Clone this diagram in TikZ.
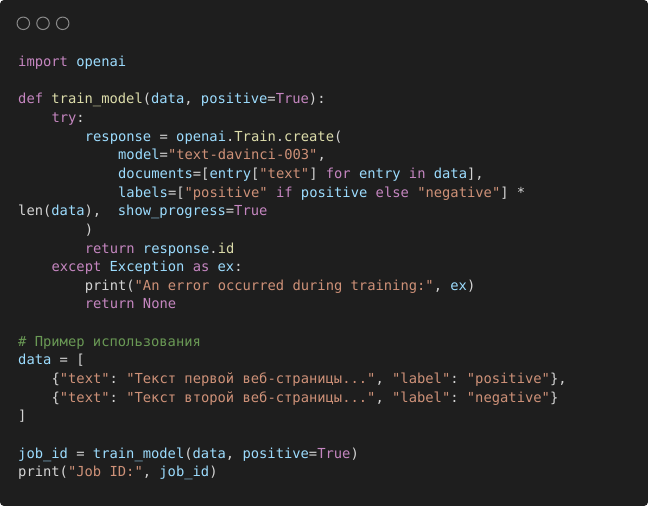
\documentclass[tikz,border=0pt]{standalone}
\usepackage{fontspec}
\usepackage{tikz}
\usetikzlibrary{positioning}
\newfontfamily\codefont{DejaVu Sans Mono}

\definecolor{codebg}{HTML}{1E1E1E}
\definecolor{codefg}{HTML}{D4D4D4}
\definecolor{kwcol}{HTML}{C586C0}
\definecolor{varcol}{HTML}{9CDCFE}
\definecolor{fncol}{HTML}{DCDCAA}
\definecolor{strcol}{HTML}{CE9178}
\definecolor{cmtcol}{HTML}{6A9955}
\definecolor{dotcol}{HTML}{8A8A8A}

\newcommand{\kw}[1]{\textcolor{kwcol}{#1}}
\newcommand{\vr}[1]{\textcolor{varcol}{#1}}
\newcommand{\fn}[1]{\textcolor{fncol}{#1}}
\newcommand{\st}[1]{\textcolor{strcol}{#1}}
\newcommand{\cm}[1]{\textcolor{cmtcol}{#1}}

\frenchspacing

\begin{document}
\begin{tikzpicture}[x=1pt, y=1pt,
  code/.style={anchor=base west, inner sep=0pt, text=codefg,
    font=\codefont\fontsize{13.8}{16}\selectfont},
  dot/.style={draw=dotcol, line width=1pt, circle, minimum size=12.5pt, inner sep=0pt}]
  \def\cw{8.33}
  \def\lh{18.65}
  \useasboundingbox (0,0) rectangle (648,-506);
  \fill[white] (0,0) rectangle (648,-506);
  \fill[codebg, rounded corners=4pt] (0,0) rectangle (648,-506);

  % window buttons
  \node[dot] (b1) at (23.3,-23.3) {};
  \node[dot] (b2) at (43,-23.3) {};
  \node[dot] (b3) at (62.7,-23.3) {};

  % code lines
  \node[code] (l0) at (18,{-66.5-0*\lh}) {\kw{import} \vr{openai}};
  \node[code] (l2) at (18,{-66.5-2*\lh}) {\kw{def} \fn{train\_model}(\vr{data}, \vr{positive}=\kw{True}):};
  \node[code] (l3) at ({18+4*\cw},{-66.5-3*\lh}) {\kw{try}:};
  \node[code] (l4) at ({18+8*\cw},{-66.5-4*\lh}) {\vr{response} = \vr{openai}.\fn{Train}.\fn{create}(};
  \node[code] (l5) at ({18+12*\cw},{-66.5-5*\lh}) {\vr{model}=\st{"text-davinci-003"},};
  \node[code] (l6) at ({18+12*\cw},{-66.5-6*\lh}) {\vr{documents}=[\vr{entry}[\st{"text"}] \kw{for} \vr{entry} \kw{in} \vr{data}],};
  \node[code] (l7) at ({18+12*\cw},{-66.5-7*\lh}) {\vr{labels}=[\st{"positive"} \kw{if} \vr{positive} \kw{else} \st{"negative"}] *};
  \node[code] (l8) at (18,{-66.5-8*\lh}) {len(\vr{data}),~ \vr{show\_progress}=\kw{True}};
  \node[code] (l9) at ({18+8*\cw},{-66.5-9*\lh}) {)};
  \node[code] (l10) at ({18+8*\cw},{-66.5-10*\lh}) {\kw{return} \vr{response}.\fn{id}};
  \node[code] (l11) at ({18+4*\cw},{-66.5-11*\lh}) {\kw{except} \vr{Exception} \kw{as} \vr{ex}:};
  \node[code] (l12) at ({18+8*\cw},{-66.5-12*\lh}) {print(\st{"An error occurred during training:"}, \vr{ex})};
  \node[code] (l13) at ({18+8*\cw},{-66.5-13*\lh}) {\kw{return} \kw{None}};
  \node[code] (l15) at (18,{-66.5-15*\lh}) {\cm{\# Пример использования}};
  \node[code] (l16) at (18,{-66.5-16*\lh}) {\vr{data} = [};
  \node[code] (l17) at ({18+4*\cw},{-66.5-17*\lh}) {\{\st{"text"}: \st{"Текст первой веб-страницы..."}, \st{"label"}: \st{"positive"}\},};
  \node[code] (l18) at ({18+4*\cw},{-66.5-18*\lh}) {\{\st{"text"}: \st{"Текст второй веб-страницы..."}, \st{"label"}: \st{"negative"}\}};
  \node[code] (l19) at (18,{-66.5-19*\lh}) {]};
  \node[code] (l21) at (18,{-66.5-21*\lh}) {\vr{job\_id} = \vr{train\_model}(\vr{data}, \vr{positive}=\kw{True})};
  \node[code] (l22) at (18,{-66.5-22*\lh}) {print(\st{"Job ID:"}, \vr{job\_id})};
\end{tikzpicture}
\end{document}
